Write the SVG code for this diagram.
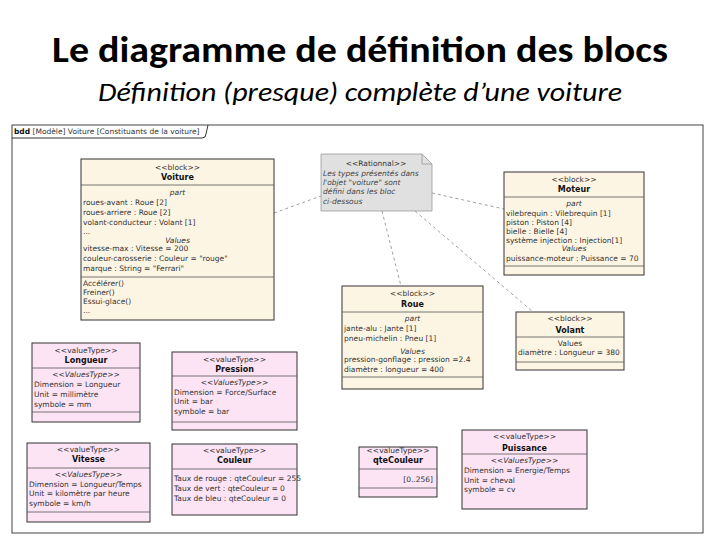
<svg xmlns="http://www.w3.org/2000/svg" width="720" height="540" viewBox="0 0 720 540">
<style>
.t{font-family:"DejaVu Sans",sans-serif;font-size:7.5px;fill:#333}
.c{text-anchor:middle}
.b{font-weight:bold;font-size:8px;fill:#111}
.i{font-style:italic}
.s{fill:#444}
.blk{fill:#fdf5e4;stroke:#333;stroke-width:1}
.vt{fill:#fce4f4;stroke:#333;stroke-width:1}
.sep{stroke:#555;stroke-width:0.8}
.dash{stroke:#888;stroke-width:0.8;stroke-dasharray:3 3;fill:none}
</style>
<rect width="720" height="540" fill="#fff"/>
<text x="360" y="62" text-anchor="middle" font-family="Carlito,'Liberation Sans',sans-serif" font-size="36" font-weight="bold" textLength="616" lengthAdjust="spacingAndGlyphs" fill="#000">Le diagramme de définition des blocs</text>
<text x="360" y="101" text-anchor="middle" font-family="Carlito,'Liberation Sans',sans-serif" font-size="26" font-style="italic" textLength="524" lengthAdjust="spacingAndGlyphs" fill="#000">Définition (presque) complète d’une voiture</text>

<g id="frame">
<rect x="12" y="125" width="691" height="408" fill="none" stroke="#444" stroke-width="1"/>
<path d="M12 138 H202 Q206 138 206 134 L208 125" fill="none" stroke="#333" stroke-width="1"/>
<text class="t" x="14" y="134"><tspan font-weight="bold" fill="#111">bdd</tspan> [Modèle] Voiture [Constituants de la voiture]</text>
</g>

<g id="connectors">
<line class="dash" x1="274" y1="213" x2="321" y2="196"/>
<line class="dash" x1="432" y1="193" x2="504" y2="209"/>
<line class="dash" x1="382" y1="211" x2="401" y2="286"/>
<line class="dash" x1="415" y1="211" x2="533" y2="312"/>
</g>

<g id="note">
<path d="M321 154 H422 L432 164 V211 H321 Z" fill="#e0e0e0" stroke="#999" stroke-width="0.8"/>
<path d="M422 154 V164 H432" fill="none" stroke="#999" stroke-width="0.8"/>
<text class="t c" x="376" y="166" fill="#222">&lt;&lt;Rationnal&gt;&gt;</text>
<text class="t i s" x="323" y="176">Les types présentés dans</text>
<text class="t i s" x="323" y="185">l'objet "voiture" sont</text>
<text class="t i s" x="323" y="194">défini dans les bloc</text>
<text class="t i s" x="323" y="204">ci-dessous</text>
</g>

<g id="voiture">
<rect class="blk" x="81" y="159" width="193" height="161"/>
<line class="sep" x1="81" y1="185" x2="274" y2="185"/>
<line class="sep" x1="81" y1="277" x2="274" y2="277"/>
<text class="t c" x="177.5" y="170">&lt;&lt;block&gt;&gt;</text>
<text class="t c b" x="177.5" y="180">Voiture</text>
<text class="t c i" x="177.5" y="195">part</text>
<text class="t" x="83" y="205">roues-avant : Roue [2]</text>
<text class="t" x="83" y="215">roues-arriere : Roue [2]</text>
<text class="t" x="83" y="225">volant-conducteur : Volant [1]</text>
<text class="t" x="83" y="234">...</text>
<text class="t c i" x="177.5" y="243">Values</text>
<text class="t" x="83" y="251">vitesse-max : Vitesse = 200</text>
<text class="t" x="83" y="261">couleur-carosserie : Couleur = "rouge"</text>
<text class="t" x="83" y="271">marque : String = "Ferrari"</text>
<text class="t" x="83" y="286">Accélérer()</text>
<text class="t" x="83" y="295">Freiner()</text>
<text class="t" x="83" y="304">Essui-glace()</text>
<text class="t" x="83" y="313">...</text>
</g>

<g id="moteur">
<rect class="blk" x="504" y="172" width="140" height="103"/>
<line class="sep" x1="504" y1="197" x2="644" y2="197"/>
<line class="sep" x1="504" y1="266" x2="644" y2="266"/>
<text class="t c" x="574" y="182">&lt;&lt;block&gt;&gt;</text>
<text class="t c b" x="574" y="192">Moteur</text>
<text class="t c i" x="574" y="206">part</text>
<text class="t" x="506" y="216">vilebrequin : Vilebrequin [1]</text>
<text class="t" x="506" y="225">piston : Piston [4]</text>
<text class="t" x="506" y="234">bielle : Bielle [4]</text>
<text class="t" x="506" y="243">système injection : Injection[1]</text>
<text class="t c i" x="574" y="251">Values</text>
<text class="t" x="506" y="261">puissance-moteur : Puissance = 70</text>
</g>

<g id="roue">
<rect class="blk" x="342" y="286" width="141" height="103"/>
<line class="sep" x1="342" y1="312" x2="483" y2="312"/>
<line class="sep" x1="342" y1="377" x2="483" y2="377"/>
<text class="t c" x="412.5" y="296">&lt;&lt;block&gt;&gt;</text>
<text class="t c b" x="412.5" y="307">Roue</text>
<text class="t c i" x="412.5" y="321">part</text>
<text class="t" x="344" y="331">jante-alu : Jante [1]</text>
<text class="t" x="344" y="340.5">pneu-michelin : Pneu [1]</text>
<text class="t c i" x="412.5" y="353.5">Values</text>
<text class="t" x="344" y="362">pression-gonflage : pression =2.4</text>
<text class="t" x="344" y="371.5">diamètre : longueur = 400</text>
</g>

<g id="volant">
<rect class="blk" x="516" y="312" width="108" height="58"/>
<line class="sep" x1="516" y1="337" x2="624" y2="337"/>
<line class="sep" x1="516" y1="362" x2="624" y2="362"/>
<text class="t c" x="570" y="321">&lt;&lt;block&gt;&gt;</text>
<text class="t c b" x="570" y="333">Volant</text>
<text class="t c" x="570" y="346">Values</text>
<text class="t" x="518" y="355">diamètre : Longueur = 380</text>
</g>

<g id="longueur">
<rect class="vt" x="32" y="343" width="108" height="79"/>
<line class="sep" x1="32" y1="368" x2="140" y2="368"/>
<line class="sep" x1="32" y1="412" x2="140" y2="412"/>
<text class="t c" x="86" y="353">&lt;&lt;valueType&gt;&gt;</text>
<text class="t c b" x="86" y="363">Longueur</text>
<text class="t c i" x="86" y="377">&lt;&lt;ValuesType&gt;&gt;</text>
<text class="t" x="34" y="387">Dimension = Longueur</text>
<text class="t" x="34" y="397">Unit = millimètre</text>
<text class="t" x="34" y="407">symbole = mm</text>
</g>

<g id="pression">
<rect class="vt" x="172" y="352" width="125" height="78"/>
<line class="sep" x1="172" y1="376" x2="297" y2="376"/>
<line class="sep" x1="172" y1="422" x2="297" y2="422"/>
<text class="t c" x="234.5" y="362">&lt;&lt;valueType&gt;&gt;</text>
<text class="t c b" x="234.5" y="372">Pression</text>
<text class="t c i" x="234.5" y="385">&lt;&lt;ValuesType&gt;&gt;</text>
<text class="t" x="174" y="395">Dimension = Force/Surface</text>
<text class="t" x="174" y="404">Unit = bar</text>
<text class="t" x="174" y="414">symbole = bar</text>
</g>

<g id="vitesse">
<rect class="vt" x="27" y="443" width="123" height="79"/>
<line class="sep" x1="27" y1="468" x2="150" y2="468"/>
<line class="sep" x1="27" y1="512" x2="150" y2="512"/>
<text class="t c" x="88.5" y="452">&lt;&lt;valueType&gt;&gt;</text>
<text class="t c b" x="88.5" y="462">Vitesse</text>
<text class="t c i" x="88.5" y="477">&lt;&lt;ValuesType&gt;&gt;</text>
<text class="t" x="29" y="487">Dimension = Longueur/Temps</text>
<text class="t" x="29" y="496">Unit = kilomètre par heure</text>
<text class="t" x="29" y="506">symbole = km/h</text>
</g>

<g id="couleur">
<rect class="vt" x="172" y="444" width="125" height="71"/>
<line class="sep" x1="172" y1="469" x2="297" y2="469"/>
<text class="t c" x="234.5" y="453">&lt;&lt;valueType&gt;&gt;</text>
<text class="t c b" x="234.5" y="463">Couleur</text>
<text class="t" x="174" y="481">Taux de rouge : qteCouleur = 255</text>
<text class="t" x="174" y="491">Taux de vert : qteCouleur = 0</text>
<text class="t" x="174" y="501">Taux de bleu : qteCouleur = 0</text>
</g>

<g id="qteCouleur">
<rect class="vt" x="359" y="447" width="78" height="50"/>
<line class="sep" x1="359" y1="469" x2="437" y2="469"/>
<line class="sep" x1="359" y1="488" x2="437" y2="488"/>
<text class="t c" x="398" y="453">&lt;&lt;valueType&gt;&gt;</text>
<text class="t c b" x="398" y="463">qteCouleur</text>
<text class="t" x="433" y="482" text-anchor="end">[0..256]</text>
</g>

<g id="puissance">
<rect class="vt" x="462" y="430" width="125" height="79"/>
<line class="sep" x1="462" y1="454" x2="587" y2="454"/>
<text class="t c" x="524.5" y="439">&lt;&lt;valueType&gt;&gt;</text>
<text class="t c b" x="524.5" y="451">Puissance</text>
<text class="t c i" x="524.5" y="463">&lt;&lt;ValuesType&gt;&gt;</text>
<text class="t" x="464" y="473">Dimension = Energie/Temps</text>
<text class="t" x="464" y="483">Unit = cheval</text>
<text class="t" x="464" y="492">symbole = cv</text>
</g>
</svg>
